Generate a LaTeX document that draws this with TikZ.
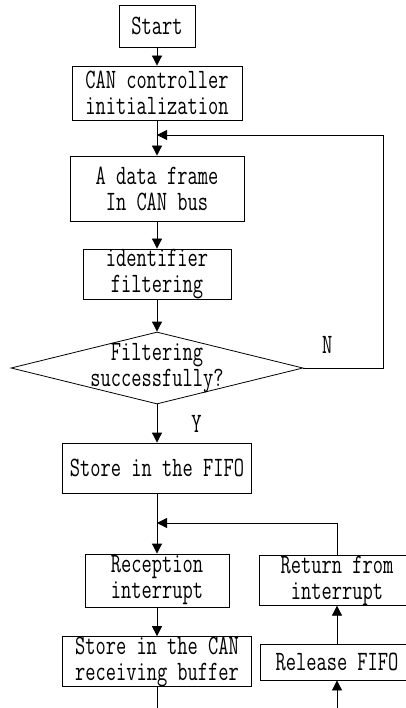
\documentclass[tikz,border=0pt]{standalone}
\usepackage{fontspec}
\usepackage{tikz}
\usetikzlibrary{arrows.meta,shapes.geometric}
\newfontfamily\canfont[FakeStretch=0.71]{Latin Modern Mono}

\begin{document}
\begin{tikzpicture}[->,>={Triangle[length=10pt,width=10pt]},x=1pt,y=1pt,line width=0.8pt,
    font=\canfont\fontsize{28}{26}\selectfont]
  \tikzstyle{box}=[draw,rectangle,inner sep=0pt,align=center]
  \tikzstyle{test}=[draw,diamond,inner sep=0pt,align=center]
  \tikzstyle{tag}=[inner sep=0pt]

  \useasboundingbox (0,0) rectangle (406,-708);

  \node[box,minimum width=76pt,minimum height=42pt]  (Start) at (157,-26)                  {Start};
  \node[box,minimum width=170pt,minimum height=54pt] (Init)  [below of=Start,node distance=67pt]   {CAN controller\\initialization};
  \node[box,minimum width=174pt,minimum height=65pt] (Frame) [below of=Init,node distance=95.5pt]  {A data frame\\In CAN bus};
  \node[box,minimum width=148pt,minimum height=50pt] (Filt)  [below of=Frame,node distance=85.5pt] {identifier\\filtering};
  \node[test,minimum width=292pt,minimum height=72pt,
        label={[align=center]center:{Filtering\\successfully?}}] (Check) [below of=Filt,node distance=94pt] {};
  \node[box,minimum width=189pt,minimum height=50pt] (Fifo)  [below of=Check,node distance=100pt]  {Store in the FIFO};
  \node[box,minimum width=144pt,minimum height=53pt] (Recv)  [below of=Fifo,node distance=112.5pt] {Reception\\interrupt};
  \node[box,minimum width=189pt,minimum height=49pt] (Buf)   [below of=Recv,node distance=81pt]    {Store in the CAN\\receiving buffer};
  \node[box,minimum width=156pt,minimum height=47pt] (Ret)   [right of=Recv,node distance=180pt]   {Return from\\interrupt};
  \node[box,minimum width=154pt,minimum height=36pt] (Rel)   [below of=Ret,node distance=81.5pt]   {Release FIFO};

  \coordinate (M1)   at (157,-135);
  \coordinate (Loop) at (383,-135);
  \coordinate (M2)   at (157,-523);
  \coordinate (BufOut) at (157,-708);
  \coordinate (RelIn)  at (337,-708);

  \draw (Start) -- (Init);
  \draw (Init)  -- (Frame);
  \draw (Frame) -- (Filt);
  \draw (Filt)  -- (Check);
  \draw (Check) -- node[tag,right=34pt] {Y} (Fifo);
  \draw (Check.east) -| node[tag,pos=0.15,above=14pt] {N} (Loop) -- (M1);
  \draw (Fifo)  -- (Recv);
  \draw (Recv)  -- (Buf);
  \draw[-] (Buf) -- (BufOut);
  \draw (RelIn) -- (Rel);
  \draw (Rel)   -- (Ret);
  \draw (Ret.north) |- (M2);
\end{tikzpicture}
\end{document}
